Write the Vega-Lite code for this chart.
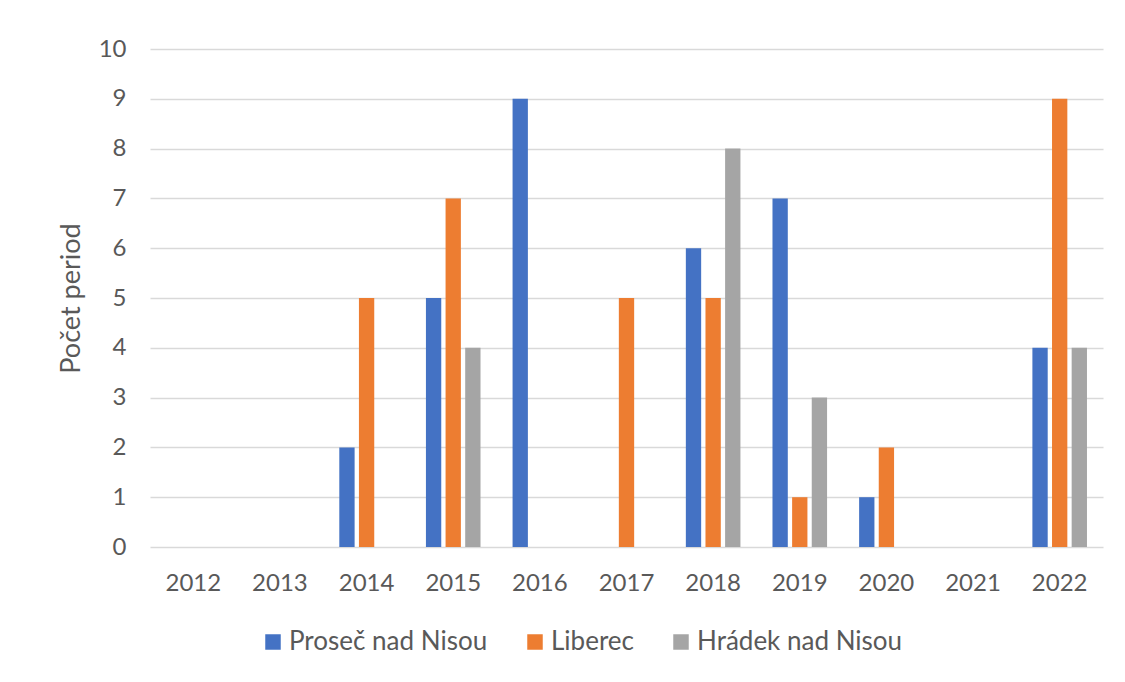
{
  "$schema": "https://vega.github.io/schema/vega-lite/v6.json",
  "width": 953,
  "height": 498,
  "autosize": "none",
  "padding": {"left": 150, "top": 49, "right": 22, "bottom": 135},
  "background": "white",
  "data": {
    "values": [
      {"rok": "2012", "obec": "Proseč nad Nisou", "pocet": 0},
      {"rok": "2012", "obec": "Liberec", "pocet": 0},
      {"rok": "2012", "obec": "Hrádek nad Nisou", "pocet": 0},
      {"rok": "2013", "obec": "Proseč nad Nisou", "pocet": 0},
      {"rok": "2013", "obec": "Liberec", "pocet": 0},
      {"rok": "2013", "obec": "Hrádek nad Nisou", "pocet": 0},
      {"rok": "2014", "obec": "Proseč nad Nisou", "pocet": 2},
      {"rok": "2014", "obec": "Liberec", "pocet": 5},
      {"rok": "2014", "obec": "Hrádek nad Nisou", "pocet": 0},
      {"rok": "2015", "obec": "Proseč nad Nisou", "pocet": 5},
      {"rok": "2015", "obec": "Liberec", "pocet": 7},
      {"rok": "2015", "obec": "Hrádek nad Nisou", "pocet": 4},
      {"rok": "2016", "obec": "Proseč nad Nisou", "pocet": 9},
      {"rok": "2016", "obec": "Liberec", "pocet": 0},
      {"rok": "2016", "obec": "Hrádek nad Nisou", "pocet": 0},
      {"rok": "2017", "obec": "Proseč nad Nisou", "pocet": 0},
      {"rok": "2017", "obec": "Liberec", "pocet": 5},
      {"rok": "2017", "obec": "Hrádek nad Nisou", "pocet": 0},
      {"rok": "2018", "obec": "Proseč nad Nisou", "pocet": 6},
      {"rok": "2018", "obec": "Liberec", "pocet": 5},
      {"rok": "2018", "obec": "Hrádek nad Nisou", "pocet": 8},
      {"rok": "2019", "obec": "Proseč nad Nisou", "pocet": 7},
      {"rok": "2019", "obec": "Liberec", "pocet": 1},
      {"rok": "2019", "obec": "Hrádek nad Nisou", "pocet": 3},
      {"rok": "2020", "obec": "Proseč nad Nisou", "pocet": 1},
      {"rok": "2020", "obec": "Liberec", "pocet": 2},
      {"rok": "2020", "obec": "Hrádek nad Nisou", "pocet": 0},
      {"rok": "2021", "obec": "Proseč nad Nisou", "pocet": 0},
      {"rok": "2021", "obec": "Liberec", "pocet": 0},
      {"rok": "2021", "obec": "Hrádek nad Nisou", "pocet": 0},
      {"rok": "2022", "obec": "Proseč nad Nisou", "pocet": 4},
      {"rok": "2022", "obec": "Liberec", "pocet": 9},
      {"rok": "2022", "obec": "Hrádek nad Nisou", "pocet": 4}
    ]
  },
  "mark": {"type": "bar"},
  "encoding": {
    "x": {
      "field": "rok",
      "type": "nominal",
      "scale": {"paddingInner": 0.37, "paddingOuter": 0.185},
      "axis": {
        "title": null,
        "labelAngle": 0,
        "labelFont": "Lato",
        "labelFontSize": 24,
        "labelColor": "#595959",
        "labelPadding": 24,
        "ticks": false,
        "domain": false,
        "grid": false
      }
    },
    "xOffset": {
      "field": "obec",
      "type": "nominal",
      "sort": ["Proseč nad Nisou", "Liberec", "Hrádek nad Nisou"],
      "scale": {"paddingInner": 0.22, "paddingOuter": 0}
    },
    "y": {
      "field": "pocet",
      "type": "quantitative",
      "scale": {"domain": [0, 10], "nice": false},
      "axis": {
        "title": "Počet period",
        "titleFont": "Lato",
        "titleFontSize": 27,
        "titleFontWeight": "normal",
        "titleColor": "#595959",
        "titlePadding": 13,
        "values": [0, 1, 2, 3, 4, 5, 6, 7, 8, 9, 10],
        "labelOverlap": false,
        "labelFont": "Lato",
        "labelFontSize": 24,
        "labelColor": "#595959",
        "labelPadding": 24,
        "ticks": false,
        "domain": false,
        "grid": true,
        "gridColor": "#d9d9d9",
        "gridWidth": 1.5
      }
    },
    "color": {
      "field": "obec",
      "type": "nominal",
      "sort": ["Proseč nad Nisou", "Liberec", "Hrádek nad Nisou"],
      "scale": {
        "domain": ["Proseč nad Nisou", "Liberec", "Hrádek nad Nisou"],
        "range": ["#4472C4", "#ED7D31", "#A5A5A5"]
      },
      "legend": {
        "title": null,
        "orient": "none",
        "legendX": 110,
        "legendY": 580,
        "direction": "horizontal",
        "symbolType": "square",
        "symbolSize": 240,
        "symbolStrokeWidth": 0,
        "labelFont": "Lato",
        "labelFontSize": 26,
        "labelColor": "#595959",
        "labelOffset": 3,
        "columnPadding": 34,
        "labelLimit": 400
      }
    }
  },
  "config": {
    "view": {"stroke": null}
  }
}
